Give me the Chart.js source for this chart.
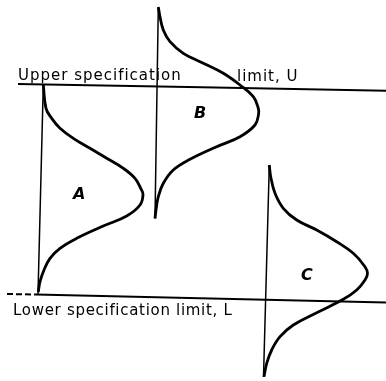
<!DOCTYPE html>
<html>
<head>
<meta charset="utf-8">
<script src="https://cdn.jsdelivr.net/npm/chart.js@4"></script>
<style>
  html, body { margin: 0; padding: 0; background: #fff; }
  #wrap { width: 386px; height: 381px; }
</style>
</head>
<body>
<div id="wrap"><canvas id="chart" width="386" height="381"></canvas></div>
<script>
// values, in the picture's own units (x right, y down)
const upperLimit = [{x: 18, y: 84}, {x: 386, y: 90.7}];
const lowerLimit = [{x: 7, y: 294}, {x: 36, y: 294.6}, {x: 386, y: 302.5}];

const baseA = [{x: 43.3, y: 84.3}, {x: 38, y: 294}];
const baseB = [{x: 158.3, y: 7}, {x: 155, y: 218.5}];
const baseC = [{x: 269.3, y: 165}, {x: 263.5, y: 377}];

const curveA = [
    {x: 43.3, y: 84.3}, {x: 46, y: 108.3}, {x: 51.7, y: 118.3}, {x: 60, y: 128.3},
    {x: 73.3, y: 138.3}, {x: 90, y: 148.3}, {x: 106.7, y: 158.3}, {x: 123.3, y: 168.3},
    {x: 135, y: 178.3}, {x: 140.7, y: 188.3}, {x: 143, y: 194.5}, {x: 140, y: 205},
    {x: 126.7, y: 216}, {x: 103.3, y: 226}, {x: 76.7, y: 238.3}, {x: 60, y: 248.3},
    {x: 50, y: 258.3}, {x: 44, y: 270}, {x: 40, y: 281.7}, {x: 38.3, y: 292}
];
const curveB = [
    {x: 158.3, y: 7}, {x: 160, y: 16.7}, {x: 163.3, y: 30}, {x: 170, y: 41.7},
    {x: 183.3, y: 53.3}, {x: 203.3, y: 63.3}, {x: 223.3, y: 73.3}, {x: 240, y: 85},
    {x: 253.3, y: 96.7}, {x: 258.3, y: 108.3}, {x: 258.6, y: 114}, {x: 255, y: 125},
    {x: 240, y: 136.7}, {x: 216.7, y: 146.7}, {x: 190, y: 159.3}, {x: 173.3, y: 170},
    {x: 163.3, y: 183.3}, {x: 158.3, y: 196.7}, {x: 156, y: 210}, {x: 155, y: 218.5}
];
const curveC = [
    {x: 269.3, y: 165}, {x: 270.7, y: 176.7}, {x: 275, y: 193.3}, {x: 283.3, y: 208.3},
    {x: 296.7, y: 220}, {x: 316.7, y: 230}, {x: 336.7, y: 241.7}, {x: 353.3, y: 253.3},
    {x: 365, y: 266.7}, {x: 367.5, y: 273.5}, {x: 365, y: 280}, {x: 356.7, y: 290},
    {x: 343.3, y: 299.3}, {x: 316.7, y: 312.7}, {x: 293.3, y: 325}, {x: 280, y: 336.7},
    {x: 271.7, y: 350}, {x: 266.7, y: 363.3}, {x: 264, y: 376.7}
];

// text and where it sits
const labels = [
    {text: 'Upper specification', x: 18, y: 80, italic: false, spacing: 1},
    {text: 'limit, U', x: 237, y: 81, italic: false, spacing: 1},
    {text: 'Lower specification limit, L', x: 13, y: 315, italic: false, spacing: 0.7},
    {text: 'A', x: 73, y: 199, italic: true, spacing: 0},
    {text: 'B', x: 194, y: 118, italic: true, spacing: 0},
    {text: 'C', x: 301, y: 280, italic: true, spacing: 0}
];

const textPlugin = {
    id: 'texts',
    afterDatasetsDraw(chart) {
        const ctx = chart.ctx;
        const xs = chart.scales.x, ys = chart.scales.y;
        ctx.save();
        ctx.fillStyle = '#000';
        ctx.textBaseline = 'alphabetic';
        labels.forEach(l => {
            ctx.font = l.italic ? 'italic bold 16px "DejaVu Sans"' : '15px "DejaVu Sans"';
            ctx.letterSpacing = l.spacing + 'px';
            ctx.fillText(l.text, xs.getPixelForValue(l.x), ys.getPixelForValue(l.y));
        });
        ctx.restore();
    }
};

function line(data, width) {
    return {
        data: data,
        showLine: true,
        borderColor: '#000',
        borderWidth: width,
        pointRadius: 0,
        tension: 0.4,
        fill: false
    };
}

const lower = line(lowerLimit, 2);
lower.tension = 0;
lower.segment = { borderDash: ctx => ctx.p0DataIndex === 0 ? [6, 3] : undefined };

new Chart(document.getElementById('chart'), {
    type: 'scatter',
    data: {
        datasets: [
            line(upperLimit, 2),
            lower,
            line(baseA, 1.5),
            line(baseB, 1.5),
            line(baseC, 1.5),
            line(curveA, 2.8),
            line(curveB, 2.8),
            line(curveC, 2.8)
        ]
    },
    options: {
        responsive: false,
        animation: false,
        layout: { padding: 0 },
        plugins: { legend: { display: false }, tooltip: { enabled: false } },
        scales: {
            x: { type: 'linear', min: 0, max: 386, display: false },
            y: { type: 'linear', min: 0, max: 381, reverse: true, display: false }
        }
    },
    plugins: [textPlugin]
});
</script>
</body>
</html>
